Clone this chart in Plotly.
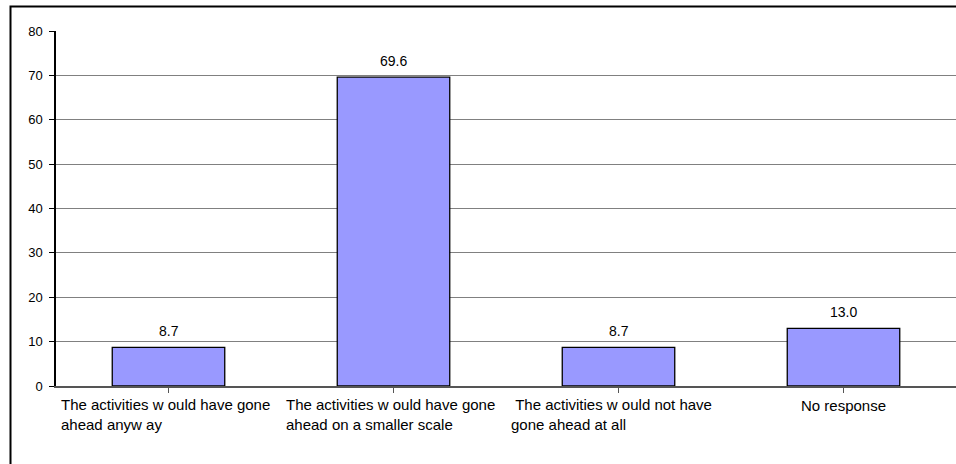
import plotly.graph_objects as go

# Survey responses: share of respondents (%)
categories = [
    "The activities would have gone ahead anyway",
    "The activities would have gone ahead on a smaller scale",
    "The activities would not have gone ahead at all",
    "No response",
]
values = [8.7, 69.6, 8.7, 13.0]
# Wrapped axis labels as they appear under each bar
label_lines = [
    ["The activities w ould have gone", "ahead anyw ay"],
    ["The activities w ould have gone", "ahead on a smaller scale"],
    ["\u00a0The activities w ould not have", "gone ahead at all"],
    ["No response"],
]
y_ticks = [0, 10, 20, 30, 40, 50, 60, 70, 80]

FONT = "Liberation Sans, Arial, sans-serif"

fig = go.Figure(
    go.Bar(
        x=list(range(len(categories))),
        y=values,
        width=0.5,
        marker=dict(color="#9999FF", line=dict(color="#000000", width=1.3)),
        hovertext=categories,
    )
)

annotations = []
# Value labels above each bar
for i, v in enumerate(values):
    annotations.append(dict(
        x=i, y=v, xref="x", yref="y", text=f"{v:.1f}", showarrow=False,
        xanchor="center", yanchor="middle", yshift=16,
        font=dict(family=FONT, size=14, color="#000000"),
    ))
# Category labels under the axis
for i, lines in enumerate(label_lines):
    if len(lines) == 1:
        annotations.append(dict(
            x=i, y=0, xref="x", yref="paper", text=lines[0], showarrow=False,
            xanchor="center", yanchor="top", yshift=-9,
            font=dict(family=FONT, size=15, color="#000000"),
        ))
    else:
        annotations.append(dict(
            x=i - 0.5, y=0, xref="x", yref="paper", text="<br>".join(lines),
            showarrow=False, align="left", xanchor="left", yanchor="top",
            xshift=3, yshift=-8,
            font=dict(family=FONT, size=15, color="#000000"),
        ))

fig.update_layout(
    width=956, height=464,
    margin=dict(l=56, r=0, t=31, b=78),
    paper_bgcolor="#FFFFFF", plot_bgcolor="#FFFFFF",
    showlegend=False,
    bargap=0.5,
    annotations=annotations,
    shapes=[dict(
        type="rect", xref="paper", yref="paper",
        x0=(10.5 - 56) / 900, x1=1.2, y0=-0.5, y1=1 + (31 - 6.5) / 355,
        line=dict(color="#000000", width=2), fillcolor="rgba(0,0,0,0)",
        layer="below",
    )],
    xaxis=dict(
        range=[-0.5, 3.5], tickvals=list(range(4)), ticktext=[""] * 4,
        showticklabels=False, showgrid=False, zeroline=False,
        ticks="outside", tickson="boundaries", ticklen=5,
        tickcolor="#555555", showline=True, linecolor="#555555", linewidth=1.5,
    ),
    yaxis=dict(
        range=[0, 80], tickvals=y_ticks, ticks="outside", ticklen=5,
        tickcolor="#000000", showline=True, linecolor="#000000", linewidth=1.5,
        showgrid=True, gridcolor="#808080", gridwidth=1, zeroline=False,
        tickfont=dict(family=FONT, size=13, color="#000000"),
        ticklabelstandoff=4,
    ),
)

fig.write_html("out.html")
